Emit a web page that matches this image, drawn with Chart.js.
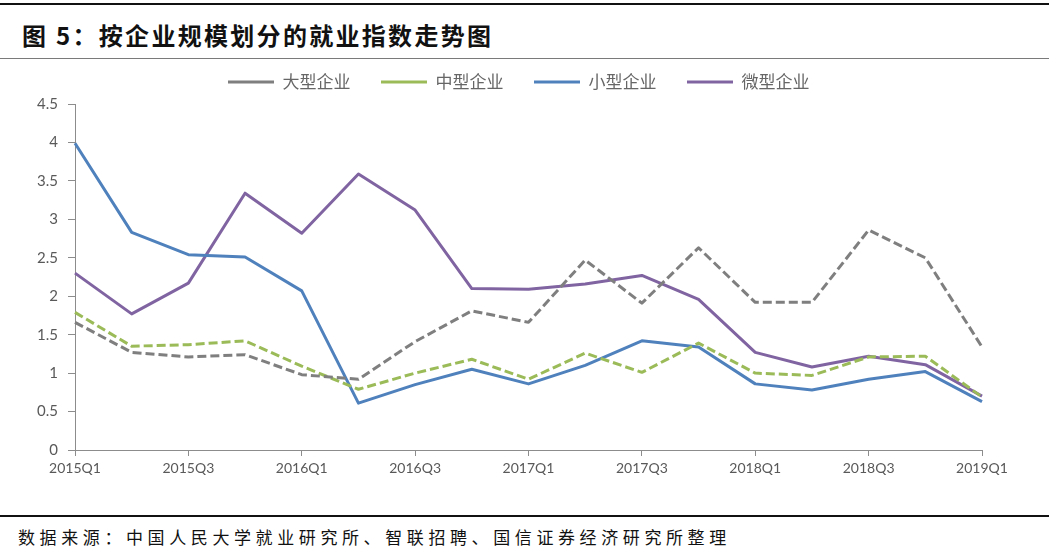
<!DOCTYPE html>
<html>
<head>
<meta charset="utf-8">
<script src="https://cdn.jsdelivr.net/npm/chart.js@4/dist/chart.umd.min.js"></script>
<style>
  html, body { margin: 0; padding: 0; background: #fff; }
  #wrap { position: relative; width: 1049px; height: 555px; overflow: hidden; background: #fff; }
  #topline { position: absolute; left: 0; top: 3px; width: 1049px; height: 2px; background: #111; }
  #title { position: absolute; left: 22px; top: 19px; font: bold 24px/32px "Noto Sans CJK SC", sans-serif; letter-spacing: 2.3px; color: #111; white-space: nowrap; }
  #titleline { position: absolute; left: 0; top: 58px; width: 1049px; height: 1px; background: #7a7a7a; }
  #footline { position: absolute; left: 0; top: 515px; width: 1049px; height: 2px; background: #111; }
  #footer { position: absolute; left: 18px; top: 525px; font: 17px/24px "Noto Sans CJK SC", sans-serif; letter-spacing: 4.6px; color: #111; white-space: nowrap; }
  #cv { position: absolute; left: 0; top: 40px; }
</style>
</head>
<body>
<div id="wrap">
  <div id="topline"></div>
  <div id="title">图 5：按企业规模划分的就业指数走势图</div>
  <div id="titleline"></div>
  <canvas id="cv" width="1049" height="470" style="width:1049px;height:470px"></canvas>
  <div id="footline"></div>
  <div id="footer">数据来源：中国人民大学就业研究所、智联招聘、国信证券经济研究所整理</div>
</div>
<script>
const categories = ["2015Q1","2015Q2","2015Q3","2015Q4","2016Q1","2016Q2","2016Q3","2016Q4","2017Q1","2017Q2","2017Q3","2017Q4","2018Q1","2018Q2","2018Q3","2018Q4","2019Q1"];
const seriesNames = ["大型企业","中型企业","小型企业","微型企业"];
const largeValues  = [1.66,1.27,1.21,1.24,0.98,0.92,1.41,1.81,1.66,2.47,1.91,2.63,1.92,1.92,2.86,2.50,1.34];
const mediumValues = [1.79,1.35,1.37,1.42,1.09,0.79,1.00,1.18,0.92,1.26,1.01,1.39,1.00,0.97,1.21,1.22,0.69];
const smallValues  = [3.99,2.83,2.54,2.51,2.07,0.61,0.85,1.05,0.86,1.10,1.42,1.34,0.86,0.78,0.92,1.02,0.63];
const microValues  = [2.30,1.77,2.17,3.34,2.82,3.59,3.12,2.10,2.09,2.16,2.27,1.96,1.27,1.08,1.22,1.11,0.70];
const yTicks = [0,0.5,1,1.5,2,2.5,3,3.5,4,4.5];

const axisColor = '#8c8c8c';
const textColor = '#595959';

const legendSpacer = {
  id: 'legendSpacer',
  beforeInit(chart) {
    const lg = chart.legend;
    if (lg) {
      const orig = lg.fit;
      lg.fit = function() { orig.call(this); this.height += 3.5; };
    }
  }
};

function ds(label, data, color, dash) {
  return {
    label, data,
    yAxisID: 'y',
    borderColor: color, backgroundColor: color,
    borderWidth: 3, borderDash: dash,
    pointRadius: 0, pointHoverRadius: 0,
    tension: 0, fill: false, clip: false,
    borderCapStyle: 'butt', borderJoinStyle: 'round'
  };
}

new Chart(document.getElementById('cv'), {
  type: 'line',
  data: {
    labels: categories,
    datasets: [
      ds(seriesNames[0], largeValues, '#7f7f7f', [9,4]),
      ds(seriesNames[1], mediumValues, '#9bbb59', [9,4]),
      ds(seriesNames[2], smallValues, '#4f81bd', []),
      ds(seriesNames[3], microValues, '#8064a2', [])
    ]
  },
  options: {
    responsive: false,
    animation: false,
    devicePixelRatio: 1,
    layout: { padding: { left: 30, right: 41.5, top: 3, bottom: 0 } },
    plugins: {
      tooltip: { enabled: false },
      legend: {
        position: 'top',
        align: 'center',
        labels: {
          usePointStyle: true,
          pointStyle: 'line',
          pointStyleWidth: 46,
          padding: 30.5,
          color: '#666666',
          font: { family: "'Noto Sans CJK SC', sans-serif", size: 17 }
        }
      }
    },
    scales: {
      x: {
        type: 'category',
        offset: false,
        afterFit: (s) => { s.height = 60; },
        border: { display: true, color: axisColor, width: 1 },
        grid: {
          drawOnChartArea: false,
          drawTicks: true,
          tickLength: 6,
          tickWidth: 1,
          tickColor: (c) => (c.index % 2 === 0 ? axisColor : 'rgba(0,0,0,0)')
        },
        ticks: {
          autoSkip: false,
          maxRotation: 0,
          minRotation: 0,
          padding: 4,
          color: textColor,
          font: { family: "Lato, sans-serif", size: 14 },
          callback: function(v, i) { return i % 2 === 0 ? categories[i] : ''; }
        }
      },
      y: {
        position: 'left',
        min: 0, max: 4.5,
        afterFit: (s) => { s.width = 45; },
        afterBuildTicks: (s) => { s.ticks = yTicks.map(v => ({ value: v })); },
        border: { display: true, color: axisColor, width: 1 },
        grid: {
          drawOnChartArea: false,
          drawTicks: true,
          tickLength: 7,
          tickColor: axisColor
        },
        ticks: {
          padding: 10,
          color: textColor,
          font: { family: "Lato, sans-serif", size: 15 },
          callback: (v) => String(v)
        }
      },
      yRight: {
        type: 'linear',
        position: 'right',
        display: true,
        min: 0, max: 4.5,
        afterFit: (s) => { s.width = 25.5; },
        border: { display: false },
        grid: { display: false, drawTicks: false },
        ticks: { display: false }
      }
    }
  },
  plugins: [legendSpacer]
});
</script>
</body>
</html>
